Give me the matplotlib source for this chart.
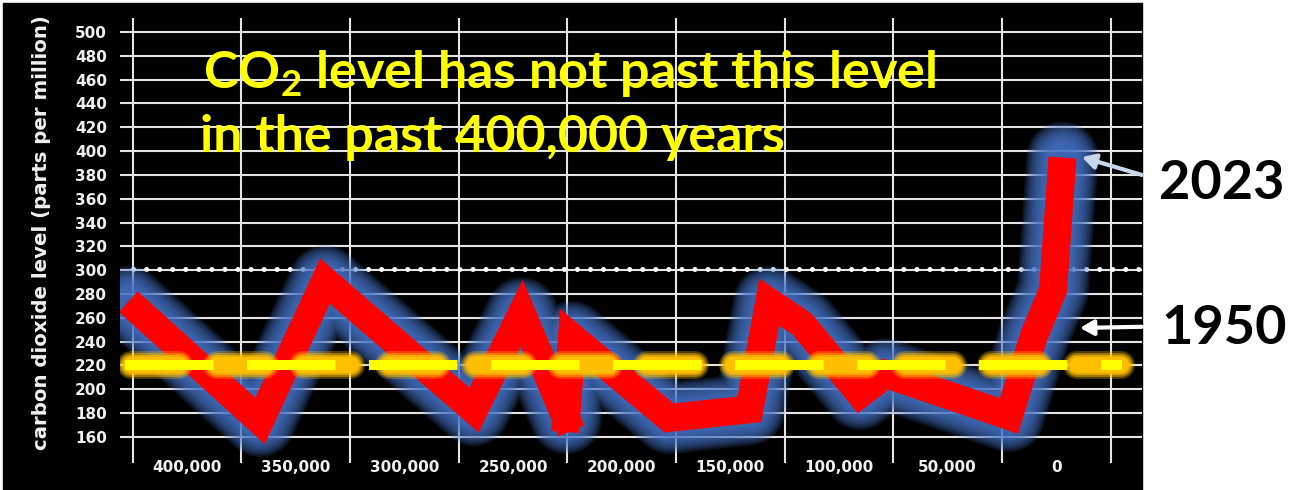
import matplotlib
matplotlib.use("Agg")
import matplotlib.pyplot as plt
import numpy as np
from matplotlib.patches import Rectangle

plt.rcParams['lines.scale_dashes'] = False
plt.rcParams['mathtext.fontset'] = 'custom'
plt.rcParams['mathtext.rm'] = 'Lato:bold'
plt.rcParams['mathtext.it'] = 'Lato:bold'
plt.rcParams['mathtext.bf'] = 'Lato:bold'

# ---------------- data ----------------
years_ago = [427000, 366400, 336500, 267950, 246000, 225600, 222850, 178200,
             141200, 132100, 117000, 90300, 78400, 21800, 10300, 1500, -2850]
co2_ppm = [273.6, 173.4, 290.9, 182.6, 263.8, 175.9, 243.9, 175.9,
           183.2, 273.3, 254.8, 196.1, 212.8, 177.6, 244.8, 283.4, 394.6]
sharp_turn_index = 5           # very sharp V drawn as two pieces

reference_level = 220          # yellow dashed line
ceiling_level = 300            # dotted line
y_ticks = list(range(160, 501, 20))
x_label_years = [400000, 350000, 300000, 250000, 200000, 150000, 100000, 50000, 0]
x_label_text = ['400,000', '350,000', '300,000', '250,000', '200,000',
                '150,000', '100,000', '50,000', '0']
grid_years = [425000, 375000, 325000, 275000, 225000, 175000, 125000, 75000, 25000, -25000]

ref_span = (428500, -30200)
glow_span = (426000, -29800)
dot_span = (425000, -39440)

title_line1 = 'CO$_2$ level has not past this level'
title_line2 = 'in the past 400,000 years'
ylabel = 'carbon dioxide level (parts per million)'
label_2023 = '2023'
label_1950 = '1950'
arrow_2023 = ((-11800, 395), (-39400, 380))
arrow_1950 = ((-10900, 251.5), (-39400, 252.5))

PX = 0.72  # points per pixel at dpi=100

# ---------------- figure ----------------
fig = plt.figure(figsize=(12.99, 4.9), dpi=100, facecolor='white')
fig.patches.append(Rectangle((3 / 1299, 0), (1142 - 3) / 1299, (490 - 3) / 490,
                             transform=fig.transFigure, color='black', zorder=-10))

ax = fig.add_axes([120 / 1299, 27 / 490, (1142 - 120) / 1299, (463 - 18) / 490])
ax.set_facecolor('black')
ax.set_xlim(430844, -39440)
ax.set_ylim(138.1, 511.8)
for s in ax.spines.values():
    s.set_visible(False)

ax.set_yticks(y_ticks)
ax.set_yticklabels([str(v) for v in y_ticks])
ax.set_xticks(grid_years)
ax.set_xticklabels([])
ax.set_xticks(x_label_years, minor=True)
ax.set_xticklabels(x_label_text, minor=True)
ax.tick_params(axis='both', which='both', length=0, colors='white')
ax.tick_params(axis='y', pad=9.4, labelsize=11)
ax.tick_params(axis='x', which='minor', pad=-2.0, labelsize=11)
for lab in ax.get_yticklabels() + ax.get_xticklabels(minor=True):
    lab.set_fontfamily('DejaVu Sans')
    lab.set_fontweight('bold')
    lab.set_color('#f0f0f0')

ax.grid(True, which='major', color='#e4e4e4', linewidth=1.5)
ax.set_axisbelow(True)

# dotted ceiling line
ax.plot(dot_span, [ceiling_level + 1.3] * 2, color='white', lw=5 * PX,
        linestyle=(0, (0.1, 9.3)), dash_capstyle='round', zorder=2)

# blue glow around the red line
for w in np.linspace(30, 72, 12):
    ax.plot(years_ago, co2_ppm, color='#4674C8', lw=w * PX, alpha=0.17,
            solid_joinstyle='round', solid_capstyle='round', zorder=3)

# red line (split at the very sharp turn)
k = sharp_turn_index
red = dict(color='#FF0000', lw=28 * PX, solid_joinstyle='miter', zorder=4)
ax.plot(years_ago[:k + 1], co2_ppm[:k + 1], solid_capstyle='butt', **red)
ax.plot(years_ago[k:], co2_ppm[k:], solid_capstyle='butt', **red)
mid_before = ((years_ago[k - 1] + years_ago[k]) / 2, (co2_ppm[k - 1] + co2_ppm[k]) / 2)
mid_after = ((years_ago[k] + years_ago[k + 1]) / 2, (co2_ppm[k] + co2_ppm[k + 1]) / 2)
ax.plot([mid_before[0], years_ago[k]], [mid_before[1], co2_ppm[k]],
        solid_capstyle='projecting', **red)
ax.plot([years_ago[k], mid_after[0]], [co2_ppm[k], mid_after[1]],
        solid_capstyle='projecting', **red)

# orange glow (dashed)
for w, a in [(28, 0.3), (24, 0.45), (20, 0.65), (16, 0.95)]:
    ax.plot(glow_span, [reference_level] * 2, color='#FFC000', lw=w * PX, alpha=a,
            linestyle=(0, (48 * PX, 38 * PX)), dash_capstyle='round', zorder=5)

# yellow dashed reference line
ax.plot(ref_span, [reference_level] * 2, color='#FFFF00', lw=10 * PX,
        linestyle=(0, (88.5 * PX, 33.5 * PX)), dash_capstyle='butt', zorder=6)

# arrows
ax.annotate('', xy=arrow_2023[0], xytext=arrow_2023[1], annotation_clip=False,
            arrowprops=dict(arrowstyle='-|>,head_length=0.8,head_width=0.45',
                            color='#c8d6ee', lw=3, shrinkA=0, shrinkB=0), zorder=7)
ax.annotate('', xy=arrow_1950[0], xytext=arrow_1950[1], annotation_clip=False,
            arrowprops=dict(arrowstyle='-|>,head_length=0.8,head_width=0.45',
                            color='white', lw=3, shrinkA=0, shrinkB=0), zorder=7)

# texts
fig.text(42 / 1299, 1 - 233 / 490, ylabel, rotation=90, ha='center', va='center',
         color='#f0f0f0', fontsize=14.2, family='DejaVu Sans', fontweight='bold')
fig.text(203 / 1299, 1 - 88 / 490, title_line1, ha='left', va='baseline',
         color='#FFFF00', fontsize=37.5, family='Lato', fontweight='bold', zorder=10)
fig.text(200 / 1299, 1 - 152 / 490, title_line2, ha='left', va='baseline',
         color='#FFFF00', fontsize=37.5, family='Lato', fontweight='bold', zorder=10)
fig.text(1222 / 1299, 1 - 183 / 490, label_2023, ha='center', va='center',
         color='black', fontsize=39, family='Lato', fontweight='bold')
fig.text(1224 / 1299, 1 - 329 / 490, label_1950, ha='center', va='center',
         color='black', fontsize=39, family='Lato', fontweight='bold')

fig.savefig('out.png', dpi=100, facecolor='white')
